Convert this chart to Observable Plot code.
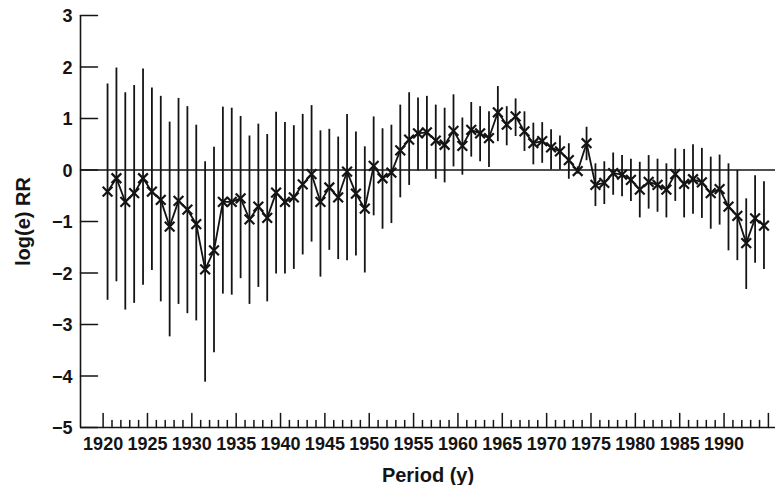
<!DOCTYPE html>
<html>
<head>
<meta charset="utf-8">
<script src="https://cdn.jsdelivr.net/npm/d3@7"></script>
<script src="https://cdn.jsdelivr.net/npm/@observablehq/plot@0.6"></script>
<style>
  html, body { margin: 0; padding: 0; background: #fff; }
  #chart { width: 775px; height: 485px; }
</style>
</head>
<body>
<div id="chart"></div>
<script>
// Period (year) of each estimate
const years = [
  1920, 1921, 1922, 1923, 1924, 1925, 1926, 1927, 1928, 1929,
  1930, 1931, 1932, 1933, 1934, 1935, 1936, 1937, 1938, 1939,
  1940, 1941, 1942, 1943, 1944, 1945, 1946, 1947, 1948, 1949,
  1950, 1951, 1952, 1953, 1954, 1955, 1956, 1957, 1958, 1959,
  1960, 1961, 1962, 1963, 1964, 1965, 1966, 1967, 1968, 1969,
  1970, 1971, 1972, 1973, 1974, 1975, 1976, 1977, 1978, 1979,
  1980, 1981, 1982, 1983, 1984, 1985, 1986, 1987, 1988, 1989,
  1990, 1991, 1992, 1993, 1994
];
// log(e) RR point estimates
const logRR = [
  -0.42, -0.16, -0.62, -0.45, -0.16, -0.42, -0.58, -1.10, -0.60, -0.77,
  -1.05, -1.93, -1.56, -0.62, -0.62, -0.55, -0.96, -0.71, -0.93, -0.44,
  -0.62, -0.53, -0.28, -0.08, -0.62, -0.34, -0.53, -0.03, -0.46, -0.75,
   0.08, -0.16, -0.05,  0.38,  0.59,  0.71,  0.73,  0.57,  0.49,  0.76,
   0.47,  0.78,  0.71,  0.62,  1.12,  0.88,  1.04,  0.75,  0.52,  0.56,
   0.44,  0.36,  0.19, -0.02,  0.52, -0.29, -0.25, -0.06, -0.09, -0.19,
  -0.38, -0.23, -0.29, -0.38, -0.08, -0.27, -0.18, -0.24, -0.45, -0.37,
  -0.71, -0.89, -1.42, -0.94, -1.08
];
// lower confidence limits
const lower = [
  -2.53, -2.17, -2.72, -2.59, -2.24, -1.95, -2.56, -3.24, -2.61, -2.79,
  -2.93, -4.12, -3.55, -2.41, -2.43, -2.11, -2.61, -2.28, -2.56, -2.02,
  -2.02, -1.93, -1.65, -1.40, -2.08, -1.56, -1.74, -1.76, -1.67, -2.00,
  -0.89, -1.15, -1.04, -0.54, -0.30, -0.02,  0.00, -0.18, -0.25,  0.06,
  -0.10,  0.25,  0.16,  0.05,  0.55,  0.47,  0.65,  0.36,  0.10,  0.13,
   0.00,  0.00, -0.18, -0.08,  0.18, -0.71, -0.67, -0.49, -0.52, -0.61,
  -0.93, -0.76, -0.82, -0.93, -0.61, -0.93, -0.86, -0.94, -1.15, -1.07,
  -1.57, -1.76, -2.32, -1.81, -1.93
];
// upper confidence limits
const upper = [
   1.67,  1.98,  1.50,  1.64,  1.96,  1.59,  1.43,  0.93,  1.39,  1.23,
   0.87,  0.16,  0.44,  1.22,  1.20,  1.04,  0.66,  0.89,  0.69,  1.12,
   0.92,  0.86,  1.08,  1.25,  0.76,  0.79,  0.64,  1.08,  0.74,  0.45,
   1.03,  0.80,  0.87,  1.26,  1.50,  1.40,  1.43,  1.26,  1.20,  1.46,
   1.01,  1.31,  1.23,  1.13,  1.62,  1.23,  1.38,  1.13,  0.91,  0.92,
   0.78,  0.66,  0.51,  0.06,  0.83,  0.12,  0.16,  0.33,  0.28,  0.21,
   0.15,  0.28,  0.21,  0.12,  0.41,  0.40,  0.49,  0.42,  0.25,  0.29,
   0.12, -0.01, -0.56, -0.11, -0.23
];

// axis ticks
const yTicks = [-5, -4, -3, -2, -1, 0, 1, 2, 3];
const xLabelYears = [1920, 1925, 1930, 1935, 1940, 1945, 1950, 1955, 1960, 1965, 1970, 1975, 1980, 1985, 1990];
const xMajorTicks = [1920, 1925, 1930, 1935, 1940, 1945, 1950, 1955, 1960, 1965, 1970, 1975, 1980, 1985, 1990, 1995];
const xMinorTicks = [
  1921, 1922, 1923, 1924, 1926, 1927, 1928, 1929, 1931, 1932, 1933, 1934,
  1936, 1937, 1938, 1939, 1941, 1942, 1943, 1944, 1946, 1947, 1948, 1949,
  1951, 1952, 1953, 1954, 1956, 1957, 1958, 1959, 1961, 1962, 1963, 1964,
  1966, 1967, 1968, 1969, 1971, 1972, 1973, 1974, 1976, 1977, 1978, 1979,
  1981, 1982, 1983, 1984, 1986, 1987, 1988, 1989, 1991, 1992, 1993, 1994
];
const xDomain = [1917.45, 1995.8];
const yDomain = [-5, 3];

const data = years.map((year, i) => ({
  year, mid: year + 0.5, est: logRR[i], lo: lower[i], hi: upper[i]
}));

const ink = "#141414";
const font = "'Liberation Sans', Arial, Helvetica, sans-serif";
const tickUp = {draw(ctx, l) { ctx.moveTo(0, 0); ctx.lineTo(0, -l); }};
const tickRight = {draw(ctx, l) { ctx.moveTo(0, 0); ctx.lineTo(l, 0); }};
const fmt = d3.format("d");

const chart = Plot.plot({
  width: 775,
  height: 485,
  marginLeft: 80,
  marginRight: 0,
  marginTop: 15,
  marginBottom: 58,
  style: {
    fontFamily: font,
    fontSize: "18px",
    fontWeight: "bold",
    color: ink,
    background: "#fff"
  },
  x: {domain: xDomain, axis: null},
  y: {domain: yDomain, axis: null},
  marks: [
    // axis lines
    Plot.ruleX([xDomain[0]], {stroke: ink, strokeWidth: 1.6}),
    Plot.ruleY([yDomain[0]], {stroke: ink, strokeWidth: 1.6}),
    // zero reference line
    Plot.ruleY([0], {stroke: ink, strokeWidth: 1.5}),
    // inward ticks
    Plot.vector(xMajorTicks, {x: d => d, frameAnchor: "bottom", length: 14, anchor: "start", shape: tickUp, stroke: ink, strokeWidth: 1.5}),
    Plot.vector(xMinorTicks, {x: d => d, frameAnchor: "bottom", length: 7, anchor: "start", shape: tickUp, stroke: ink, strokeWidth: 1.5}),
    Plot.vector(yTicks, {y: d => d, frameAnchor: "left", length: 17, anchor: "start", shape: tickRight, stroke: ink, strokeWidth: 1.5}),
    // tick labels
    Plot.text(yTicks, {y: d => d, text: d => fmt(d), frameAnchor: "left", textAnchor: "end", lineAnchor: "middle", dx: -8, dy: 1, fontSize: 18, fontWeight: "bold", fill: ink}),
    Plot.text(xLabelYears, {x: d => d, text: d => String(d), frameAnchor: "bottom", textAnchor: "middle", lineAnchor: "top", dy: 10, fontSize: 18, fontWeight: "bold", fill: ink}),
    // axis titles
    Plot.text(["Period (y)"], {frameAnchor: "bottom", textAnchor: "middle", lineAnchor: "bottom", dy: 54, fontSize: 20, fontWeight: "bold", fill: ink}),
    Plot.text(["log(e) RR"], {frameAnchor: "left", textAnchor: "middle", lineAnchor: "middle", dx: -57, rotate: -90, fontSize: 20, fontWeight: "bold", fill: ink}),
    // confidence intervals
    Plot.ruleX(data, {x: "mid", y1: "lo", y2: "hi", stroke: ink, strokeWidth: 1.8}),
    // estimates
    Plot.line(data, {x: "mid", y: "est", stroke: ink, strokeWidth: 1.8}),
    Plot.dot(data, {x: "mid", y: "est", symbol: "times", r: 4.5, stroke: ink, strokeWidth: 2.2})
  ]
});
document.getElementById("chart").appendChild(chart);
</script>
</body>
</html>
